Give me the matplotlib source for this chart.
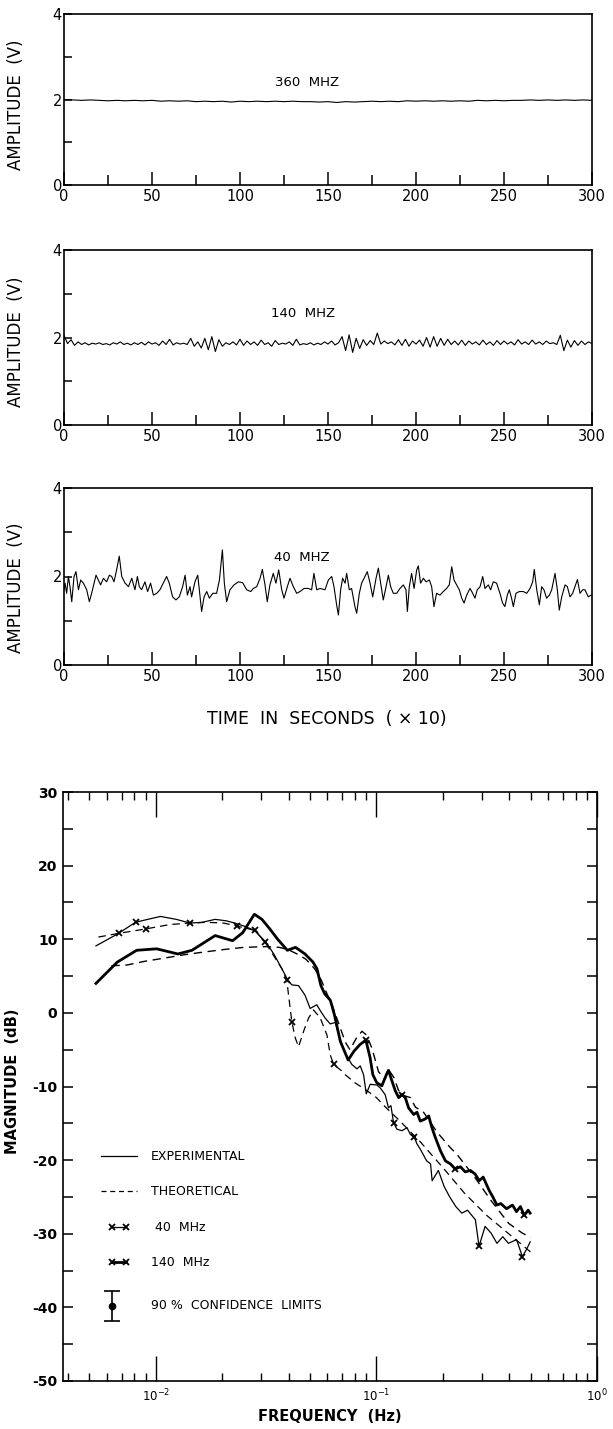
import numpy as np
import matplotlib
matplotlib.use('Agg')
import matplotlib.pyplot as plt
from matplotlib.lines import Line2D
from matplotlib.legend_handler import HandlerLine2D
from matplotlib.ticker import LogLocator, NullFormatter

# ---------------- time-series data ----------------
t360 = list(range(0, 301, 5))
v360 = [2.00, 1.99, 1.98, 1.99, 1.98, 1.97, 1.98, 1.97, 1.98, 1.97, 1.98, 1.96, 1.97, 1.96, 1.97, 1.95,
        1.96, 1.95, 1.96, 1.94, 1.96, 1.95, 1.96, 1.95, 1.96, 1.95, 1.96, 1.95, 1.95, 1.94, 1.95, 1.93,
        1.95, 1.94, 1.95, 1.96, 1.95, 1.96, 1.95, 1.97, 1.96, 1.97, 1.96, 1.97, 1.96, 1.97, 1.96, 1.98,
        1.97, 1.98, 1.97, 1.98, 1.98, 1.99, 1.98, 1.99, 1.98, 1.99, 1.98, 1.99, 1.98]

t140 = list(range(0, 301, 2))
v140 = [2.05, 1.86, 1.95, 1.82, 1.90, 1.84, 1.88, 1.83, 1.87, 1.85, 1.88, 1.84, 1.86, 1.83, 1.88, 1.85,
        1.90, 1.84, 1.87, 1.83, 1.88, 1.84, 1.89, 1.83, 1.90, 1.85, 1.88, 1.82, 1.92, 1.84, 1.96, 1.83,
        1.88, 1.85, 1.87, 1.84, 1.98, 1.80, 1.90, 1.76, 1.98, 1.72, 2.02, 1.68, 1.95, 1.80, 1.88, 1.84,
        1.90, 1.83, 1.96, 1.82, 1.92, 1.84, 1.90, 1.82, 1.94, 1.84, 1.88, 1.80, 1.93, 1.84, 1.87, 1.85,
        1.90, 1.82, 1.96, 1.83, 1.86, 1.84, 1.88, 1.83, 1.87, 1.84, 1.90, 1.85, 1.92, 1.83, 1.88, 2.02,
        1.70, 2.06, 1.66, 1.98, 1.75, 1.95, 1.82, 1.93, 1.84, 2.10, 1.85, 1.92, 1.86, 1.90, 1.83, 1.95,
        1.82, 1.96, 1.80, 1.92, 1.85, 1.94, 1.80, 2.00, 1.78, 2.02, 1.80, 1.98, 1.82, 1.96, 1.84, 1.92,
        1.83, 1.94, 1.82, 1.92, 1.85, 1.90, 1.83, 1.94, 1.84, 1.90, 1.82, 1.93, 1.84, 1.92, 1.85, 1.90,
        1.83, 1.95, 1.85, 1.90, 1.84, 1.94, 1.85, 1.90, 1.84, 1.92, 1.86, 1.88, 1.84, 2.05, 1.70, 1.94,
        1.78, 1.93, 1.82, 1.92, 1.84, 1.90, 1.86]

t40 = [0, 0.6, 1.5, 2.5, 3.4, 4.4, 5.7, 6.8, 8.2, 9.5, 11.0, 12.9, 14.4, 15.7, 18.2, 19.5, 20.8, 22.4,
       24.2, 25.8, 27.1, 28.4, 29.9, 31.4, 32.8, 34.7, 36.6, 38.5, 40.3, 41.7, 42.8, 44.1, 46.0, 47.5,
       49.2, 50.8, 52.7, 54.5, 56.4, 58.3, 59.8, 61.7, 63.6, 65.5, 67.4, 68.8, 70.1, 71.6, 72.5, 74.4,
       76.0, 77.3, 78.2, 79.6, 81.1, 82.6, 84.5, 86.7, 88.3, 90.0, 91.1, 92.4, 94.3, 96.6, 99.1, 101.5,
       103.8, 106.1, 107.6, 109.5, 111.4, 112.7, 114.2, 115.5, 117.0, 118.9, 120.4, 122.0, 123.7, 125.0,
       126.9, 128.4, 130.3, 132.2, 134.1, 136.4, 138.8, 140.7, 142.0, 143.6, 145.5,
       148.3, 150.2, 152.1, 153.4, 154.9, 155.9, 157.2, 158.3, 159.7, 160.6,
       162.1, 163.4, 165.3, 166.3, 167.8, 169.1, 171.0, 172.3, 173.9, 175.4,
       177.3, 178.6, 179.9, 181.4, 183.0, 184.3, 185.6, 187.1, 189.0, 190.9,
       192.8, 194.3, 195.1, 196.2, 197.5, 198.9, 200.4, 201.3, 202.6, 204.2,
       205.7, 207.6, 208.9, 210.2, 211.7, 213.6, 215.5, 217.4, 218.9, 220.3,
       221.6, 223.1, 224.6, 226.0, 227.3, 228.8, 230.7, 232.2, 233.5, 234.8,
       236.4, 237.9, 239.2, 241.1, 242.4, 243.9, 245.8, 247.7, 249.2, 250.5,
       251.9, 253.0, 254.3, 255.3, 256.8, 258.7, 261.0, 262.9, 264.8, 266.3,
       267.2, 268.6, 270.1, 271.4, 272.7, 274.2, 275.8, 277.1, 279.0, 280.3,
       281.4, 282.8, 284.7, 286.0, 287.5, 289.0, 290.3, 291.7, 293.2, 294.7,
       296.0, 297.9, 299.5]
v40 = [1.70, 1.85, 1.62, 2.00, 1.77, 1.43, 2.00, 2.11, 1.70, 1.92, 1.85, 1.70, 1.43, 1.62, 2.03, 1.92,
       1.81, 1.96, 1.88, 2.03, 2.00, 1.88, 2.15, 2.46, 2.00, 1.85, 1.77, 1.96, 1.70, 2.00, 1.77, 1.70,
       1.88, 1.66, 1.85, 1.58, 1.62, 1.70, 1.85, 2.00, 1.85, 1.54, 1.47, 1.54, 1.77, 2.03, 1.58, 1.77,
       1.54, 1.88, 2.03, 1.54, 1.21, 1.54, 1.66, 1.51, 1.62, 1.62, 1.92, 2.60, 1.85, 1.43, 1.70, 1.81,
       1.88, 1.86, 1.70, 1.66, 1.73, 1.77, 1.96, 2.16, 1.81, 1.43, 1.81, 2.07, 1.85, 2.15, 1.70, 1.51,
       1.77, 1.96, 1.77, 1.62, 1.66, 1.73, 1.73, 1.70, 2.07, 1.70, 1.73,
       1.70, 1.92, 2.00, 1.77, 1.36, 1.13, 1.70, 1.96, 1.85, 2.07,
       1.70, 1.73, 1.32, 1.17, 1.62, 1.85, 2.00, 2.11, 1.85, 1.54,
       1.96, 2.19, 1.85, 1.47, 1.77, 2.03, 1.77, 1.62, 1.62, 1.73,
       1.81, 1.70, 1.21, 1.77, 2.07, 1.73, 2.15, 2.24, 1.85, 1.96,
       1.88, 1.92, 1.77, 1.32, 1.62, 1.58, 1.66, 1.73, 1.81, 2.22,
       1.92, 1.81, 1.70, 1.51, 1.40, 1.58, 1.73, 1.62, 1.51, 1.70,
       1.77, 2.00, 1.73, 1.81, 1.70, 1.88, 1.85, 1.62, 1.40, 1.32,
       1.58, 1.70, 1.51, 1.32, 1.62, 1.66, 1.66, 1.62, 1.73, 1.88,
       2.16, 1.70, 1.36, 1.77, 1.70, 1.51, 1.58, 1.70, 2.07, 1.70,
       1.24, 1.54, 1.81, 1.77, 1.54, 1.62, 1.77, 1.93, 1.62, 1.70,
       1.70, 1.54, 1.58]

time_ticks = [0, 50, 100, 150, 200, 250, 300]
time_minor = [25, 75, 125, 175, 225, 275]

# ---------------- spectrum data ----------------
f40_exp = [0.00536, 0.0067, 0.0081, 0.0089, 0.0105, 0.0124, 0.0143, 0.0162, 0.0186, 0.0209, 0.0228,
           0.0251, 0.0280, 0.0316, 0.0343, 0.0373, 0.0396, 0.0414, 0.0444, 0.0475, 0.0501, 0.0537,
           0.0557, 0.0586, 0.0618, 0.0652, 0.0675, 0.0723, 0.0774, 0.0817, 0.0845, 0.0875, 0.0900,
           0.0938, 0.1007, 0.1042, 0.1096, 0.1135, 0.1164, 0.1197, 0.1239, 0.1306, 0.1377, 0.1426,
           0.1486, 0.1528, 0.1581, 0.169, 0.176, 0.179, 0.191, 0.203, 0.215, 0.229, 0.244, 0.259,
           0.281, 0.292, 0.311, 0.331, 0.352, 0.374, 0.397, 0.432, 0.459, 0.478, 0.498]
db40_exp = [9.1, 10.7, 12.3, 12.6, 13.1, 12.7, 12.2, 12.3, 12.7, 12.5, 12.2,
            11.8, 11.2, 9.6, 8.0, 6.0, 4.5, 3.8, 3.7, 2.4, 0.6, 1.1,
            0.3, -0.7, -1.5, -1.3, -3.0, -5.5, -7.0, -7.6, -7.2, -8.4, -11.0,
            -9.7, -9.8, -10.2, -11.1, -12.9, -12.6, -14.9, -15.8, -16.0, -15.6, -16.5,
            -16.9, -17.8, -18.5, -20.1, -20.5, -22.8, -21.4, -23.6, -25.0, -26.3, -27.2, -26.8,
            -28.1, -31.7, -29.0, -29.9, -31.3, -30.4, -31.3, -30.8, -33.1, -32.2, -31.1]

f40_th = [0.0055, 0.0068, 0.0090, 0.0116, 0.0143, 0.0171, 0.0203, 0.0233, 0.0282, 0.0313, 0.0342,
          0.0373, 0.0393, 0.0400, 0.0414, 0.0429, 0.0444, 0.0468, 0.0493, 0.0519, 0.0557, 0.0597,
          0.0618, 0.0640, 0.0698, 0.0723, 0.0800, 0.0900, 0.1000, 0.1100, 0.1260, 0.1580, 0.2000,
          0.2510, 0.3160, 0.3980, 0.5010]
db40_th = [10.3, 10.8, 11.4, 12.0, 12.2, 12.3, 12.2, 11.8, 11.2, 9.6, 7.8,
           6.0, 4.4, 2.4, -1.2, -3.4, -4.6, -2.5, -0.7, 0.4, -0.7, -3.0,
           -5.7, -7.0, -7.9, -8.4, -9.5, -10.5, -11.5, -12.8, -14.5, -17.5, -21.0,
           -24.5, -27.5, -30.0, -32.5]

f140_exp = [0.00536, 0.0067, 0.0082, 0.0101, 0.0126, 0.0146, 0.0186, 0.0223, 0.0248, 0.0280, 0.0303,
            0.0329, 0.0357, 0.0395, 0.0430, 0.0475, 0.0516, 0.0538, 0.0560, 0.0583, 0.0619, 0.0646,
            0.0687, 0.0745, 0.0792, 0.0843, 0.0896, 0.0937, 0.0964, 0.1005, 0.1059, 0.1117, 0.1135,
            0.1178, 0.1219, 0.1262, 0.1306, 0.1352, 0.1400, 0.1476, 0.1528, 0.1581, 0.1667, 0.1726,
            0.1786, 0.1849, 0.1950, 0.2056, 0.2163, 0.2280, 0.2404, 0.2529, 0.2667, 0.2805, 0.2924,
            0.3048, 0.3243, 0.3373, 0.3516, 0.3664, 0.3890, 0.4140, 0.4315, 0.4498, 0.4677, 0.4875,
            0.4977]
db140_exp = [4.0, 6.9, 8.5, 8.7, 8.0, 8.5, 10.5, 9.8, 10.9, 13.4, 12.7,
             11.4, 10.0, 8.5, 8.9, 8.0, 6.9, 6.0, 3.75, 2.6, 1.7, -0.3,
             -3.9, -6.4, -5.2, -4.3, -3.7, -6.1, -8.4, -9.5, -9.9, -8.2, -7.8,
             -9.3, -10.6, -11.5, -11.1, -11.5, -12.9, -13.8, -13.5, -14.7, -14.4, -14.0,
             -15.6, -16.9, -18.7, -20.1, -20.5, -21.2, -20.9, -21.6, -21.4, -21.9, -22.8,
             -22.3, -24.1, -25.0, -26.1, -25.9, -26.6, -26.1, -27.0, -26.3, -27.5, -26.8,
             -27.2]

f140_th = [0.0063, 0.0074, 0.0089, 0.0105, 0.0135, 0.0164, 0.0203, 0.0251, 0.0316, 0.0363, 0.0398,
           0.0437, 0.0479, 0.0525, 0.0562, 0.0589, 0.0631, 0.0676, 0.0724, 0.0759, 0.0813, 0.0861,
           0.0902, 0.0955, 0.1023, 0.1096, 0.1135, 0.1202, 0.1259, 0.1318, 0.1425, 0.1503, 0.1637,
           0.1884, 0.2163, 0.2317, 0.2818, 0.3311, 0.3981, 0.4581, 0.50]
db140_th = [6.4, 6.5, 7.0, 7.35, 7.9, 8.25, 8.6, 8.9, 9.0, 8.9, 8.6,
            8.0, 7.3, 6.0, 4.5, 3.0, 1.0, -1.5, -4.0, -5.0, -3.4, -2.5,
            -3.0, -4.8, -8.0, -9.0, -7.7, -8.8, -10.5, -11.2, -11.5, -12.8, -13.5,
            -16.2, -18.3, -19.2, -22.5, -25.5, -28.6, -29.9, -30.5]

mk40_exp = [0.0081, 0.0143, 0.1197, 0.1486, 0.292, 0.459]
mk40_th = [0.0068, 0.0090, 0.0233, 0.0282, 0.0313, 0.0393, 0.0414, 0.0640]
mk140_exp = [0.0896, 0.1306, 0.2280, 0.4677]

conf_f = [0.00634]
conf_db = [-39.8]
conf_err = [2.0]

# ---------------- figure ----------------
W, H = 613, 1429
plt.rcParams['font.family'] = ['DejaVu Sans']
plt.rcParams['axes.unicode_minus'] = False
fig = plt.figure(figsize=(W / 100, H / 100), dpi=100)


def fx(px):
    return px / W


def fy(py):
    return 1 - py / H


def time_panel(top, bottom, t, v, label, lx, ly, ylab_y):
    ax = fig.add_axes([fx(64), fy(bottom), fx(592) - fx(64), fy(top) - fy(bottom)])
    ax.plot(t, v, color='black', lw=0.8)
    ax.set_xlim(0, 300)
    ax.set_ylim(0, 4)
    ax.set_xticks(time_ticks)
    ax.set_xticks(time_minor, minor=True)
    ax.set_yticks([0, 1, 2, 3, 4])
    ax.set_yticklabels(['0', '', '2', '', '4'])
    ax.tick_params(axis='x', which='major', direction='in', length=9.5, width=1.1,
                   top=False, pad=3, labelsize=10.5)
    ax.tick_params(axis='x', which='minor', direction='in', length=7, width=1.1, top=False)
    ax.tick_params(axis='y', direction='in', length=6, width=1.1, right=False, pad=1.5,
                   labelsize=10.5)
    for s in ax.spines.values():
        s.set_linewidth(1.2)
    ax.set_ylabel('AMPLITUDE  (V)', fontsize=12)
    ax.yaxis.set_label_coords(-0.074, ylab_y)
    ax.text(lx, ly, label, ha='center', va='center', fontsize=9.5)
    return ax


time_panel(14, 185, t360, v360, '360  MHZ', 138, 2.4, 0.47)
time_panel(250, 425, t140, v140, '140  MHZ', 136, 2.54, 0.476)
ax3 = time_panel(488, 665, t40, v40, '40  MHZ', 135, 2.44, 0.435)
ax3.set_xlabel('TIME  IN  SECONDS  ( × 10)', fontsize=12.5)
ax3.xaxis.set_label_coords(0.498, -0.255)

# ---------------- spectrum ----------------
axs = fig.add_axes([fx(63), fy(1381), fx(597) - fx(63), fy(792) - fy(1381)])
axs.set_xscale('log')
axs.set_xlim(0.0038, 1.0)
axs.set_ylim(-50, 30)


def idx(freqs, marks):
    lf = np.log10(np.array(freqs))
    return [int(np.argmin(np.abs(lf - np.log10(m)))) for m in marks]


axs.plot(f40_exp, db40_exp, color='black', lw=0.9, marker='x', ms=4.5, mew=1.3,
         markevery=idx(f40_exp, mk40_exp))
axs.plot(f40_th, db40_th, color='black', lw=0.9, ls=(0, (6, 4)), marker='x', ms=4.5, mew=1.3,
         markevery=idx(f40_th, mk40_th))
axs.plot(f140_exp, db140_exp, color='black', lw=2.0, marker='x', ms=4.5, mew=1.3,
         markevery=idx(f140_exp, mk140_exp))
axs.plot(f140_th, db140_th, color='black', lw=1.0, ls=(0, (6, 4)))

axs.errorbar(conf_f, conf_db, yerr=conf_err, fmt='o', color='black', ms=4.5,
             capsize=6, elinewidth=1.2, capthick=1.2)
axs.text(0.0095, conf_db[0], '90 %  CONFIDENCE  LIMITS', ha='left', va='center', fontsize=9)

axs.set_yticks(list(range(-50, 31, 10)))
axs.set_yticks(list(range(-45, 30, 10)), minor=True)
axs.set_xticks([0.01, 0.1, 1.0])
axs.set_xticklabels([r'$10^{-2}$', r'$10^{-1}$', r'$10^{0}$'])
axs.xaxis.set_minor_locator(LogLocator(base=10, subs=np.arange(2, 10)))
axs.xaxis.set_minor_formatter(NullFormatter())
axs.tick_params(axis='x', which='major', direction='in', length=18, width=1.0,
                top=True, bottom=True, labelsize=8.5, pad=5)
axs.tick_params(axis='x', which='minor', direction='in', length=6, width=1.0, top=True, bottom=True)
axs.tick_params(axis='y', which='both', direction='in', length=7, width=1.1, left=True, right=True,
                labelsize=10, pad=4)
for lab in axs.get_yticklabels():
    lab.set_fontweight('bold')
for s in axs.spines.values():
    s.set_linewidth(1.2)

axs.set_ylabel('MAGNITUDE  (dB)', fontsize=10.5, fontweight='bold')
axs.yaxis.set_label_coords(-0.080, 0.509)
axs.set_xlabel('FREQUENCY  (Hz)', fontsize=10.5, fontweight='bold')
axs.xaxis.set_label_coords(0.5, -0.0475)

h1 = Line2D([], [], color='black', lw=0.9)
h2 = Line2D([], [], color='black', lw=0.9, ls=(0, (4, 3)))
h3 = Line2D([], [], color='black', lw=0.9, marker='x', ms=4.5, mew=1.3)
h4 = Line2D([], [], color='black', lw=2.0, marker='x', ms=4.5, mew=1.3)
axs.legend([h1, h2, h3, h4], ['EXPERIMENTAL', 'THEORETICAL', ' 40  MHz', '140  MHz'],
           loc='upper left', bbox_to_anchor=(0.0618, 0.4007), frameon=False, fontsize=9,
           handlelength=2.9, handletextpad=1.1, labelspacing=1.8, borderpad=0.4,
           borderaxespad=0,
           handler_map={h3: HandlerLine2D(marker_pad=0.9, numpoints=2),
                        h4: HandlerLine2D(marker_pad=0.9, numpoints=2)})

fig.savefig('out.png', dpi=100)
